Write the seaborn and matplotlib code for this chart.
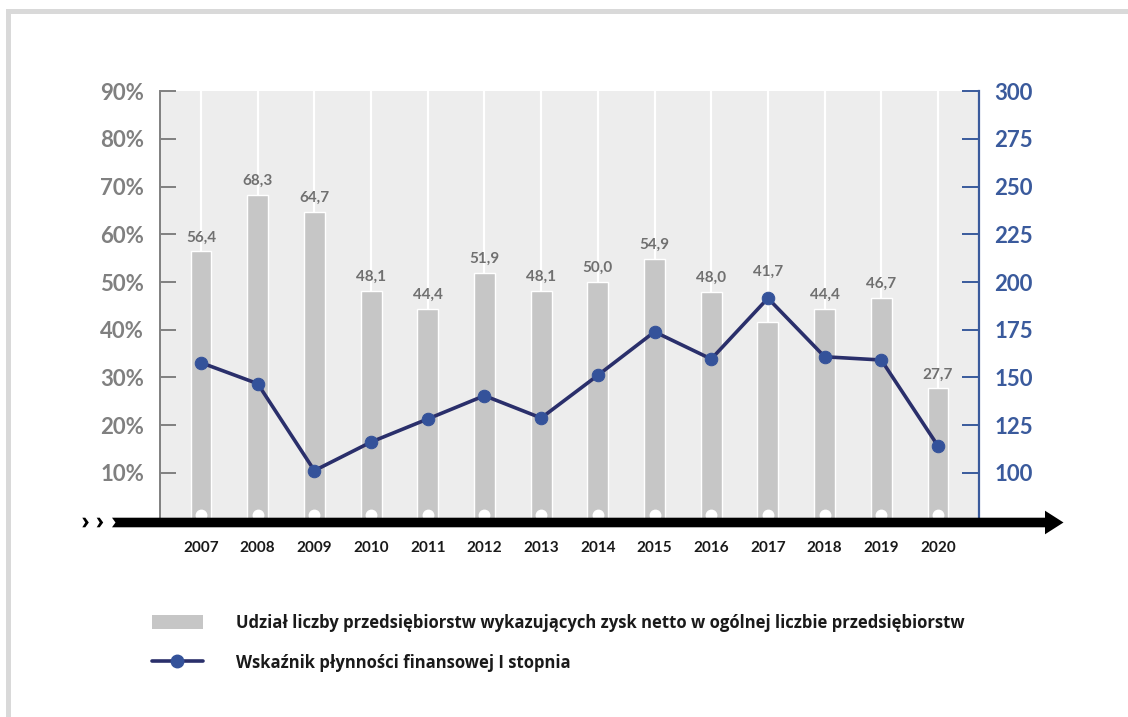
import numpy as np
import pandas as pd
import matplotlib
matplotlib.use("Agg")
import matplotlib.pyplot as plt
import matplotlib.transforms as mtransforms
from matplotlib.patches import Rectangle, Polygon, Patch
from matplotlib.lines import Line2D
import seaborn as sns

# ---- data ---------------------------------------------------------------
years = ["2007", "2008", "2009", "2010", "2011", "2012", "2013",
         "2014", "2015", "2016", "2017", "2018", "2019", "2020"]
profit_share = [56.4, 68.3, 64.7, 48.1, 44.4, 51.9, 48.1,
                50.0, 54.9, 48.0, 41.7, 44.4, 46.7, 27.7]
liquidity = [157.7, 146.7, 101.1, 116.1, 128.2, 140.4, 128.7,
             151.1, 173.9, 159.6, 191.5, 160.8, 159.1, 114.0]
left_ticks = [10, 20, 30, 40, 50, 60, 70, 80, 90]
right_ticks = [100, 125, 150, 175, 200, 225, 250, 275, 300]
bar_name = ("Udział liczby przedsiębiorstw wykazujących zysk netto "
            "w ogólnej liczbie przedsiębiorstw")
line_name = "Wskaźnik płynności finansowej I stopnia"

# ---- style --------------------------------------------------------------
sns.set_style("white")
plt.rcParams["font.family"] = ["Lato", "DejaVu Sans"]

BAR_C = "#C6C6C6"
BG_C = "#EDEDED"
LINE_C = "#2A2F6B"
MARK_C = "#34529A"
GREY_T = "#808080"
BLUE_T = "#3A5A9C"

W, H = 1128, 717
fig = plt.figure(figsize=(W / 100, H / 100), dpi=100)
fig.patch.set_facecolor("white")


def fx(px):
    return px / W


def fy(py):
    return 1 - py / H


ax = fig.add_axes([fx(160), fy(520.4), 819 / W, 429.1 / H])
ax.set_facecolor(BG_C)

df = pd.DataFrame({"year": years, "share": profit_share,
                   "ratio": liquidity, "pos": np.arange(len(years))})

# ---- bars (left axis, %) --------------------------------------------------
sns.barplot(data=df, x="year", y="share", color=BAR_C, width=0.37,
            saturation=1, ax=ax, zorder=2)
value_labels = ax.bar_label(
    ax.containers[0],
    labels=[f"{v:.1f}".replace(".", ",") for v in profit_share],
    padding=5, fontsize=11, fontweight="bold", color="#707070")
# lift the 2017 label clear of the line marker
value_labels[years.index("2017")].xyann = (0, 31)

ax.set_axisbelow(True)
ax.grid(axis="x", color="white", lw=1.6)
ax.grid(axis="y", visible=False)
ax.set_xlim(-0.723, len(years) - 1 + 0.723)
ax.set_ylim(0, 90)
ax.set_yticks(left_ticks)
ax.set_yticklabels([f"{t}%" for t in left_ticks])
ax.tick_params(axis="y", direction="in", length=11.5, width=1.4,
               color=GREY_T, pad=11.5, labelsize=16, labelcolor=GREY_T)
ax.tick_params(axis="x", length=0, pad=15, labelsize=11,
               labelcolor="#1A1A1A")
for lab in ax.get_yticklabels() + ax.get_xticklabels():
    lab.set_fontweight("bold")
ax.set_xlabel("")
ax.set_ylabel("")
for s in ("top", "bottom", "right"):
    ax.spines[s].set_visible(False)
ax.spines["left"].set_color(GREY_T)
ax.spines["left"].set_linewidth(1.4)

# year dots sitting on the time arrow
dot_tr = mtransforms.blended_transform_factory(ax.transData, ax.transAxes)
ax.plot(df["pos"], [0.0126] * len(df), "o", transform=dot_tr, ms=7.5,
        color="white", clip_on=False, zorder=6)

# ---- line (right axis) ----------------------------------------------------
ax2 = ax.twinx()
sns.lineplot(data=df, x="pos", y="ratio", ax=ax2, color=LINE_C, lw=2.6,
             marker="o", markersize=9, markerfacecolor=MARK_C,
             markeredgecolor=MARK_C, zorder=5)
ax2.set_xlim(ax.get_xlim())
ax2.set_ylim(75, 300)
ax2.set_yticks(right_ticks)
ax2.set_yticklabels([str(t) for t in right_ticks])
ax2.tick_params(axis="y", direction="in", length=12, width=1.4,
                color=BLUE_T, pad=11, labelsize=16, labelcolor=BLUE_T)
for lab in ax2.get_yticklabels():
    lab.set_fontweight("bold")
ax2.set_ylabel("")
for s in ("top", "bottom", "left"):
    ax2.spines[s].set_visible(False)
ax2.spines["right"].set_color(BLUE_T)
ax2.spines["right"].set_linewidth(1.6)

# ---- time arrow along the bottom ---------------------------------------
y0, y1, ym = 517.7, 527.3, 522.5
shaft = [(112, y0), (1047, y0), (1047, y1), (112, y1), (115.5, ym)]
fig.add_artist(Polygon([(fx(a), fy(b)) for a, b in shaft], closed=True,
                       color="black", transform=fig.transFigure, lw=0))
head = [(1045, 510.7), (1063.5, ym), (1045, 534.3)]
fig.add_artist(Polygon([(fx(a), fy(b)) for a, b in head], closed=True,
                       color="black", transform=fig.transFigure, lw=0))
for x0 in (82.3, 96.7):
    chev = [(x0, y0), (x0 + 3.0, y0), (x0 + 6.5, ym), (x0 + 3.0, y1),
            (x0, y1), (x0 + 3.0, ym)]
    fig.add_artist(Polygon([(fx(a), fy(b)) for a, b in chev], closed=True,
                           color="black", transform=fig.transFigure, lw=0))

# ---- page frame -----------------------------------------------------------
fig.add_artist(Rectangle((fx(6), fy(14)), 1, 5 / H, color="#D9D9D9",
                         transform=fig.transFigure, lw=0))
fig.add_artist(Rectangle((fx(6), 0), 5 / W, fy(9), color="#D9D9D9",
                         transform=fig.transFigure, lw=0))

# ---- legend -----------------------------------------------------------------
handles = [Patch(facecolor=BAR_C, edgecolor="none"),
           Line2D([], [], color=LINE_C, lw=2.6, marker="o", ms=9,
                  markerfacecolor=MARK_C, markeredgecolor=MARK_C)]
fig.legend(handles, [bar_name, line_name], loc="upper left",
           bbox_to_anchor=(fx(152), fy(614)), frameon=False,
           prop={"family": ["Open Sans", "DejaVu Sans"], "size": 12,
                 "weight": "bold"},
           labelcolor="#1A1A1A",
           handlelength=3.05, handleheight=0.95, handletextpad=2.0,
           labelspacing=1.3, borderpad=0, borderaxespad=0)

fig.savefig("out.png", dpi=100, facecolor="white")
